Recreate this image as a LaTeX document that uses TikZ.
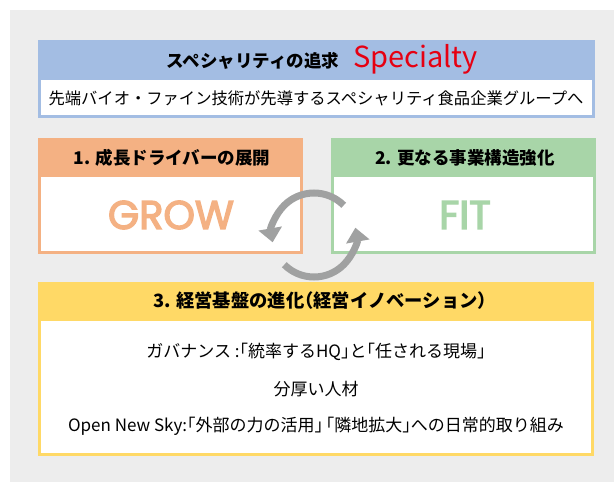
\documentclass[tikz,border=0pt]{standalone}
\usepackage{fontspec}
\setmainfont{Noto Sans CJK JP}
\newfontfamily\bigfont{Poppins}[FakeBold=3.5]
\newcommand\hb[1]{{\addfontfeature{RawFeature=+halt}#1}}
\usetikzlibrary{arrows.meta}
\definecolor{bggray}{HTML}{EDEDED}
\definecolor{hblue}{HTML}{A3BDE3}
\definecolor{horange}{HTML}{F4B183}
\definecolor{hgreen}{HTML}{A8D5A8}
\definecolor{hyellow}{HTML}{FFD966}
\definecolor{cyclegray}{HTML}{A0A1A1}
\definecolor{spred}{HTML}{E60012}
\tikzset{
  hdr/.style={font=\bfseries\fontsize{17.5}{20}\selectfont, text=black, inner sep=0pt},
  body/.style={font=\fontsize{17}{20}\selectfont, text=black, inner sep=0pt},
  big/.style={font=\bigfont\fontsize{40}{44}\selectfont, inner sep=0pt},
  cyc/.style={draw=cyclegray, line width=7pt, -{Triangle[width=23pt,length=14pt]}},
}
\begin{document}
\begin{tikzpicture}[x=1pt,y=-1pt]
\useasboundingbox (0,0) rectangle (614,482);
\fill[bggray] (10,10) rectangle (614,482);
% blue box
\fill[hblue] (38,40) rectangle (595,118);
\fill[white] (41,80) rectangle (592,115);
% orange box
\fill[horange] (38,138) rectangle (303,254);
\fill[white] (41,177) rectangle (300,251);
% green box
\fill[hgreen] (331,138) rectangle (596,254);
\fill[white] (334,177) rectangle (593,251);
% yellow box
\fill[hyellow] (38,282) rectangle (594,456);
\fill[white] (41,321) rectangle (591,453);
% texts
\node[inner sep=0pt] (title) at (322,59) {{\bfseries\fontsize{17.5}{20}\selectfont スペシャリティの追求}\hspace{14pt}{\color{spred}\fontsize{29}{32}\selectfont Specialty}};
\node[body, font=\fontsize{16.3}{19}\selectfont] (sub) at (316,98) {先端バイオ・ファイン技術が先導するスペシャリティ食品企業グループへ};
\node[hdr] (h1) at (172,158) {1. 成長ドライバーの展開};
\node[big, text=horange] (grow) at (171,215) {GROW};
\node[hdr] (h2) at (465,158) {2. 更なる事業構造強化};
\node[big, text=hgreen] (fit) at (465,215) {FIT};
\node[hdr, font=\bfseries\fontsize{18.3}{21}\selectfont] (h3) at (320,301) {3. 経営基盤の進化\hb{（}経営イノベーション\hb{）}};
\node[body] (l1) at (316,352) {ガバナンス :\hb{「}統率するHQ\hb{」}と\hb{「}任される現場\hb{」}};
\node[body] (l2) at (316,389) {分厚い人材};
\node[body] (l3) at (316,426) {Open New Sky:\hb{「}外部の力の活用\hb{」}\,\hb{「}隣地拡大\hb{」}への日常的取り組み};
% cycle arrows
\coordinate (cc) at (314,235);
\draw[cyc] ([shift={(-45:42)}]cc) arc[start angle=-45, end angle=-190, radius=42];
\draw[cyc] ([shift={(-225:42)}]cc) arc[start angle=-225, end angle=-370, radius=42];
\end{tikzpicture}
\end{document}
